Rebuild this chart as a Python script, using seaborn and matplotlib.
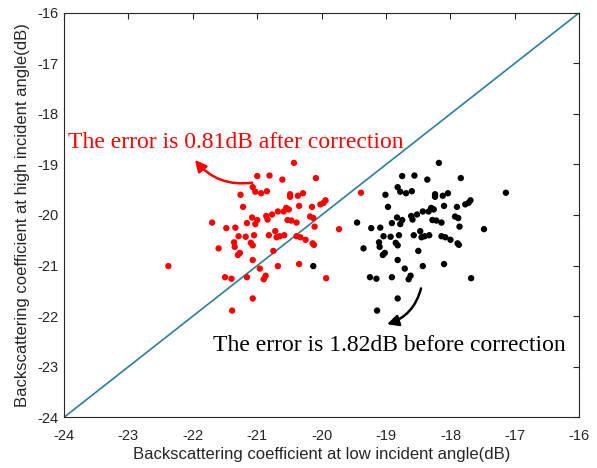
import numpy as np
import pandas as pd
import matplotlib
matplotlib.use("Agg")
import matplotlib.pyplot as plt
import seaborn as sns

# Backscattering (dB) before correction: low-angle (x) vs high-angle (y)
before_low = [
    -18.18, -18.75, -18.56, -18.36, -17.84, -18.82, -18.78, -18.69, -18.60, -19.01,
    -18.24, -18.24, -18.12, -18.04, -17.14, -18.97, -18.10, -17.90, -17.77, -17.72,
    -17.69, -18.43, -18.34, -18.30, -18.26, -18.52, -18.61, -18.59, -18.83, -18.75,
    -18.78, -18.91, -18.28, -18.22, -18.14, -17.93, -17.88, -17.86, -17.48, -19.45,
    -19.23, -19.09, -18.47, -19.04, -18.93, -18.80, -18.57, -18.45, -18.40, -18.33,
    -18.14, -18.08, -18.00, -17.89, -17.87, -19.11, -19.10, -18.85, -18.82, -19.35,
    -18.50, -19.02, -19.05, -18.82, -18.71, -18.43, -18.10, -19.25, -19.15, -18.91,
    -18.62, -18.65, -17.68, -18.82, -19.14, -20.13,
]
before_high = [
    -18.97, -19.23, -19.22, -19.30, -19.27, -19.45, -19.54, -19.57, -19.53, -19.60,
    -19.59, -19.64, -19.62, -19.57, -19.56, -19.84, -19.82, -19.84, -19.79, -19.76,
    -19.71, -19.93, -19.93, -19.86, -19.89, -19.99, -20.02, -20.09, -20.05, -20.10,
    -20.18, -20.16, -20.10, -20.11, -20.15, -20.03, -20.06, -20.23, -20.28, -20.15,
    -20.26, -20.25, -20.32, -20.42, -20.43, -20.40, -20.40, -20.44, -20.42, -20.40,
    -20.42, -20.44, -20.49, -20.56, -20.59, -20.54, -20.63, -20.55, -20.60, -20.66,
    -20.71, -20.75, -20.79, -20.89, -21.06, -21.01, -20.97, -21.23, -21.26, -21.23,
    -21.20, -21.27, -21.25, -21.65, -21.89, -21.01,
]

# Backscattering (dB) after correction
after_low = [
    -20.43, -21.00, -20.81, -20.61, -20.09, -21.07, -21.03, -20.94, -20.85, -21.26,
    -20.49, -20.49, -20.37, -20.29, -19.39, -21.22, -20.35, -20.15, -20.02, -19.97,
    -19.94, -20.68, -20.59, -20.55, -20.51, -20.77, -20.86, -20.84, -21.08, -21.00,
    -21.03, -21.16, -20.53, -20.47, -20.39, -20.18, -20.13, -20.11, -19.73, -21.70,
    -21.48, -21.34, -20.72, -21.29, -21.18, -21.05, -20.82, -20.70, -20.65, -20.58,
    -20.39, -20.33, -20.25, -20.14, -20.12, -21.36, -21.35, -21.10, -21.07, -21.60,
    -20.75, -21.27, -21.30, -21.07, -20.96, -20.68, -20.35, -21.50, -21.40, -21.16,
    -20.87, -20.90, -19.93, -21.07, -21.39, -22.38,
]
after_high = [
    -18.97, -19.23, -19.22, -19.30, -19.27, -19.45, -19.54, -19.57, -19.53, -19.60,
    -19.59, -19.64, -19.62, -19.57, -19.56, -19.84, -19.82, -19.84, -19.79, -19.76,
    -19.71, -19.93, -19.93, -19.86, -19.89, -19.99, -20.02, -20.09, -20.05, -20.10,
    -20.18, -20.16, -20.10, -20.11, -20.15, -20.03, -20.06, -20.23, -20.28, -20.15,
    -20.26, -20.25, -20.32, -20.42, -20.43, -20.40, -20.40, -20.44, -20.42, -20.40,
    -20.42, -20.44, -20.49, -20.56, -20.59, -20.54, -20.63, -20.55, -20.60, -20.66,
    -20.71, -20.75, -20.79, -20.89, -21.06, -21.01, -20.97, -21.23, -21.26, -21.23,
    -21.20, -21.27, -21.25, -21.65, -21.89, -21.01,
]

axis_ticks = [-24, -23, -22, -21, -20, -19, -18, -17, -16]
err_after = 0.81
err_before = 1.82

df = pd.concat([
    pd.DataFrame({"low": after_low, "high": after_high, "state": "after"}),
    pd.DataFrame({"low": before_low, "high": before_high, "state": "before"}),
], ignore_index=True)

sns.set_theme(style="white")
plt.rcParams["font.family"] = ["Liberation Sans", "DejaVu Sans"]

fig = plt.figure(figsize=(5.97, 4.68), dpi=100)
ax = fig.add_axes([0.1072, 0.1083, 0.8632, 0.8646])

# 1:1 reference line
ax.plot([axis_ticks[0], axis_ticks[-1]], [axis_ticks[0], axis_ticks[-1]],
        color="#2b7f9c", lw=1.2, zorder=1)

sns.scatterplot(data=df, x="low", y="high", hue="state",
                palette={"after": "red", "before": "black"},
                s=21, linewidth=0, legend=False, ax=ax, zorder=3)

ax.set_xlim(axis_ticks[0], axis_ticks[-1])
ax.set_ylim(axis_ticks[0], axis_ticks[-1])
ax.set_xticks(axis_ticks)
ax.set_yticks(axis_ticks)
ax.set_xticklabels([str(t) for t in axis_ticks])
ax.set_yticklabels([str(t) for t in axis_ticks])
ax.tick_params(direction="in", length=4, width=0.8, top=True, right=True,
               labelsize=10.5, colors="#262626")
ax.tick_params(axis="x", pad=8.5)
ax.tick_params(axis="y", pad=4)
for sp in ax.spines.values():
    sp.set_color("#262626")
    sp.set_linewidth(0.8)

ax.set_xlabel("Backscattering coefficient at low incident angle(dB)",
              fontsize=12, color="#262626", labelpad=3)
ax.set_ylabel("Backscattering coefficient at high incident angle(dB)",
              fontsize=12, color="#262626", labelpad=5)

serif = ["Liberation Serif", "DejaVu Serif"]
ax.text(-23.933, -18.675, f"The error is {err_after}dB after correction",
        color="red", fontsize=17, family=serif, ha="left", va="baseline")
ax.text(-21.682, -22.689, f"The error is {err_before}dB before correction",
        color="black", fontsize=17, family=serif, ha="left", va="baseline")

ax.annotate("", xy=(-21.993, -18.867), xytext=(-21.035, -19.353),
            arrowprops=dict(arrowstyle="-|>", color="red", lw=1.8,
                            mutation_scale=17,
                            connectionstyle="arc3,rad=-0.3"))
ax.annotate("", xy=(-19.027, -22.175), xytext=(-18.447, -21.398),
            arrowprops=dict(arrowstyle="-|>", color="black", lw=1.8,
                            mutation_scale=17,
                            connectionstyle="arc3,rad=-0.3"))

fig.savefig("out.png", dpi=100)
